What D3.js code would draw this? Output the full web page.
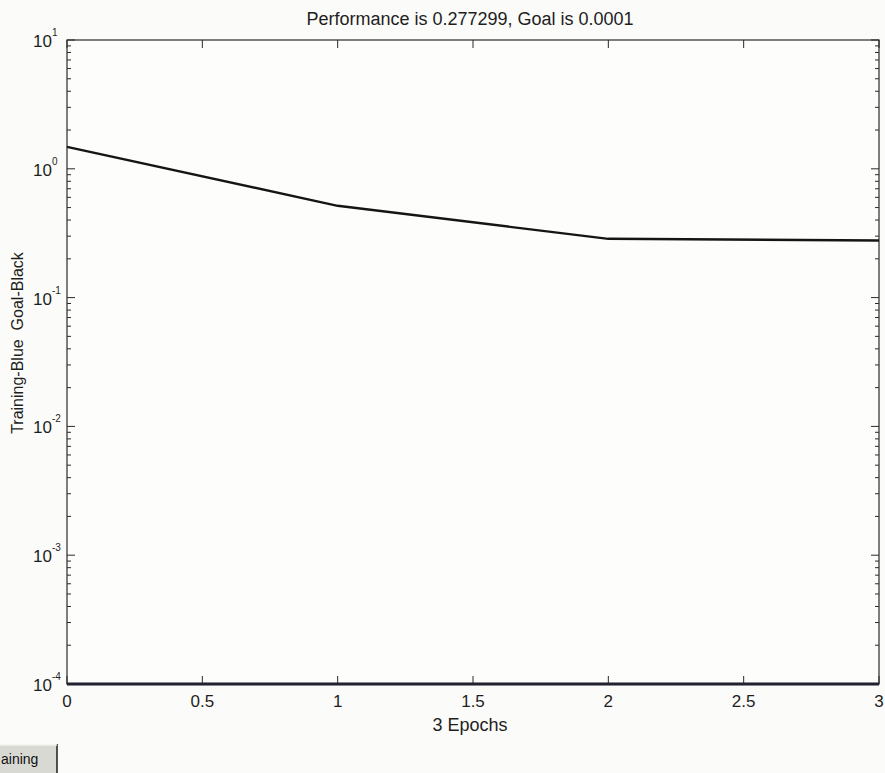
<!DOCTYPE html>
<html>
<head>
<meta charset="utf-8">
<script src="https://cdn.jsdelivr.net/npm/d3@7"></script>
<style>
  html, body { margin: 0; padding: 0; background: #fbfbf9; }
  svg { display: block; font-family: "Liberation Sans", Arial, sans-serif; }
  text { white-space: pre; }
</style>
</head>
<body>
<svg id="chart" width="885" height="773"></svg>
<script>
// Training record: epochs and performance (mean squared error)
const epochs = [0, 1, 2, 3];
const performance = [1.48, 0.516, 0.286, 0.277299];
const goal = 0.0001;
const xTicks = [0, 0.5, 1, 1.5, 2, 2.5, 3];
const yDecades = [-4, -3, -2, -1, 0, 1];
const titleText = "Performance is 0.277299, Goal is 0.0001";
const xLabel = "3 Epochs";
const yLabel = "Training-Blue  Goal-Black";
const buttonText = "aining";

const svg = d3.select("#chart");
const m = { left: 67, right: 6, top: 40, bottom: 89 };
const W = 885, H = 773;

const x = d3.scaleLinear().domain([0, 3]).range([m.left, W - m.right]);
const y = d3.scaleLog().domain([1e-4, 1e1]).range([H - m.bottom, m.top]);

const g = svg.append("g");
const innerX0 = x.range()[0], innerX1 = x.range()[1];
const innerY0 = y.range()[1], innerY1 = y.range()[0];
const textCol = "#1e1e1e";
const tickCol = "#2a2a2a";

// plot background
g.append("rect")
  .attr("x", innerX0).attr("y", innerY0)
  .attr("width", innerX1 - innerX0).attr("height", innerY1 - innerY0)
  .attr("fill", "#fdfdfb");

// minor log ticks (2..9 within each decade), inward on left and right
const minor = [];
for (let d = -4; d < 1; d++) for (let k = 2; k <= 9; k++) minor.push(k * Math.pow(10, d));
minor.forEach(v => {
  g.append("line").attr("x1", innerX0).attr("x2", innerX0 + 4)
    .attr("y1", y(v)).attr("y2", y(v)).attr("stroke", tickCol).attr("stroke-width", 1);
  g.append("line").attr("x1", innerX1).attr("x2", innerX1 - 4)
    .attr("y1", y(v)).attr("y2", y(v)).attr("stroke", tickCol).attr("stroke-width", 1);
});
// major decade ticks with 10^n labels
yDecades.forEach(d => {
  const v = Math.pow(10, d);
  g.append("line").attr("x1", innerX0).attr("x2", innerX0 + 8)
    .attr("y1", y(v)).attr("y2", y(v)).attr("stroke", tickCol);
  g.append("line").attr("x1", innerX1).attr("x2", innerX1 - 8)
    .attr("y1", y(v)).attr("y2", y(v)).attr("stroke", tickCol);
  g.append("text")
    .attr("x", 52).attr("y", y(v) + 7)
    .attr("text-anchor", "end").attr("font-size", 17).attr("fill", textCol)
    .text("10");
  g.append("text").attr("x", 52).attr("y", y(v) - 4)
    .attr("font-size", 10).attr("fill", textCol).text(d);
});
// x ticks, inward on bottom and top
xTicks.forEach(v => {
  g.append("line").attr("x1", x(v)).attr("x2", x(v))
    .attr("y1", innerY1).attr("y2", innerY1 - 8).attr("stroke", tickCol);
  g.append("line").attr("x1", x(v)).attr("x2", x(v))
    .attr("y1", innerY0).attr("y2", innerY0 + 8).attr("stroke", tickCol);
  g.append("text").attr("x", x(v)).attr("y", innerY1 + 23)
    .attr("text-anchor", "middle").attr("font-size", 17).attr("fill", textCol)
    .text(d3.format("")(v));
});

// goal line
g.append("line")
  .attr("x1", x(0)).attr("x2", x(3))
  .attr("y1", y(goal)).attr("y2", y(goal))
  .attr("stroke", "#141830").attr("stroke-width", 3);

// axes box
g.append("rect")
  .attr("x", innerX0).attr("y", innerY0)
  .attr("width", innerX1 - innerX0).attr("height", innerY1 - innerY0)
  .attr("fill", "none").attr("stroke", "#2a2a2a").attr("stroke-width", 1.2);

// performance curve
const line = d3.line().x((d, i) => x(epochs[i])).y(d => y(d));
g.append("path").datum(performance)
  .attr("d", line).attr("fill", "none")
  .attr("stroke", "#151515").attr("stroke-width", 2.4);

// title and labels
svg.append("text").attr("x", 470).attr("y", 25)
  .attr("text-anchor", "middle").attr("font-size", 18).attr("fill", textCol).text(titleText);
svg.append("text").attr("x", 470).attr("y", 731)
  .attr("text-anchor", "middle").attr("font-size", 18).attr("fill", textCol).text(xLabel);
svg.append("text")
  .attr("transform", "translate(23, 343) rotate(-90)")
  .attr("text-anchor", "middle").attr("font-size", 16).attr("fill", textCol).text(yLabel);

// training control button at the bottom-left edge
const btn = svg.append("g");
btn.append("rect").attr("x", -10).attr("y", 745).attr("width", 67).attr("height", 30)
  .attr("fill", "#d9d9d4");
btn.append("line").attr("x1", 57).attr("x2", 57).attr("y1", 744).attr("y2", 773)
  .attr("stroke", "#2a2a2a").attr("stroke-width", 1.6);
btn.append("line").attr("x1", -10).attr("x2", 57).attr("y1", 745).attr("y2", 745)
  .attr("stroke", "#f2f2ee").attr("stroke-width", 1.5);
btn.append("text").attr("x", 1).attr("y", 764)
  .attr("font-size", 14).attr("fill", "#111").text(buttonText);
</script>
</body>
</html>
